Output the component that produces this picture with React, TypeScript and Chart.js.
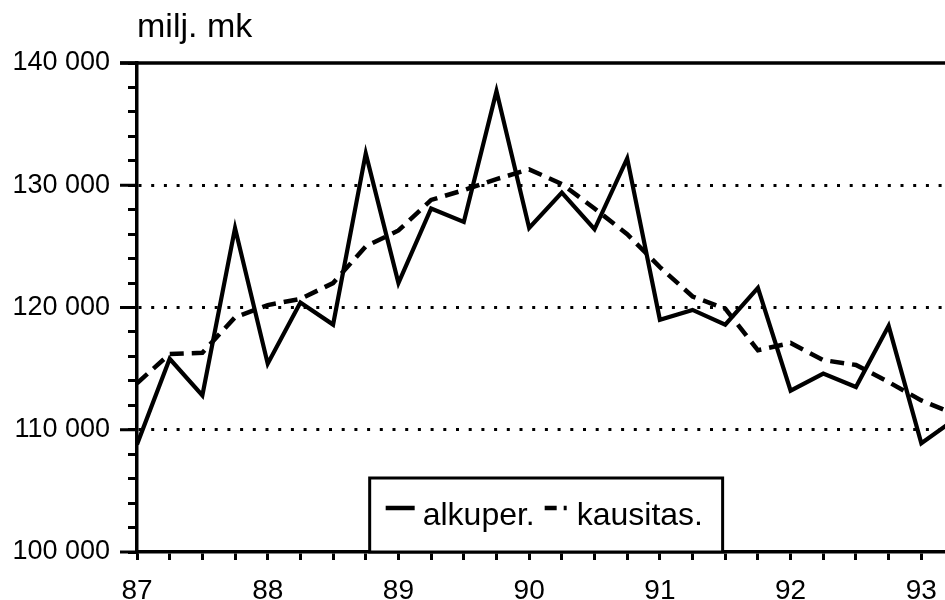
import React, { useEffect, useRef } from "react";
import { Chart, registerables } from "chart.js";

Chart.register(...registerables);

// Quarterly positions (year + quarter fraction)
const quarters = [
  87, 87.25, 87.5, 87.75, 88, 88.25, 88.5, 88.75, 89, 89.25, 89.5, 89.75, 90,
  90.25, 90.5, 90.75, 91, 91.25, 91.5, 91.75, 92, 92.25, 92.5, 92.75, 93, 93.25,
];

// alkuper. (original series), milj. mk
const alkuper = [
  108800, 115800, 112800, 126500, 115400, 120400, 118600, 132600, 122000,
  128100, 127000, 137700, 126500, 129400, 126400, 132200, 119000, 119800,
  118600, 121600, 113200, 114600, 113500, 118500, 108900, 110800,
];

// kausitas. (seasonally adjusted series), milj. mk
const kausitas = [
  113800, 116200, 116300, 119200, 120200, 120700, 122000, 125000, 126300,
  128800, 129600, 130500, 131300, 130100, 128100, 126000, 123300, 120900,
  119900, 116500, 117100, 115700, 115300, 113900, 112400, 111300,
];

const yearValues = [87, 88, 89, 90, 91, 92, 93];
const yearLabels = ["87", "88", "89", "90", "91", "92", "93"];

const yTickValues = [100000, 110000, 120000, 130000, 140000];
const yTickLabels = ["100 000", "110 000", "120 000", "130 000", "140 000"];
const yGridValues = [110000, 120000, 130000];

const unitTitle = "milj. mk";
const seriesNames = ["alkuper.", "kausitas."];

const FONT = '"Liberation Sans", Arial, Helvetica, sans-serif';

const extrasPlugin = {
  id: "extras",
  afterDraw(chart: any) {
    const { ctx, chartArea, scales } = chart;
    const y = scales.y;
    const x = scales.x;
    ctx.save();
    ctx.strokeStyle = "#000";
    ctx.fillStyle = "#000";
    ctx.lineCap = "butt";

    // long major ticks on the y axis
    ctx.lineWidth = 3;
    for (const v of yTickValues) {
      const py = y.getPixelForValue(v);
      ctx.beginPath();
      ctx.moveTo(chartArea.left - 17, py);
      ctx.lineTo(chartArea.left, py);
      ctx.stroke();
    }
    // top frame line
    const top = y.getPixelForValue(140000);
    ctx.lineWidth = 3.5;
    ctx.beginPath();
    ctx.moveTo(chartArea.left - 17, top);
    ctx.lineTo(chartArea.right + 20, top);
    ctx.stroke();

    // title
    ctx.font = `34px ${FONT}`;
    ctx.textAlign = "left";
    ctx.textBaseline = "alphabetic";
    ctx.fillText(unitTitle, chartArea.left, 37);

    // legend box
    const bx = x.getPixelForValue(88.78);
    const bx2 = x.getPixelForValue(91.48);
    const by = 478;
    const by2 = chartArea.bottom;
    ctx.fillStyle = "#fff";
    ctx.fillRect(bx, by, bx2 - bx, by2 - by);
    ctx.lineWidth = 3;
    ctx.strokeRect(bx, by, bx2 - bx, by2 - by);

    const ds = chart.data.datasets;
    const ly = 508;
    ctx.fillStyle = "#000";
    ctx.font = `32px ${FONT}`;
    // solid sample
    ctx.lineWidth = 4.5;
    ctx.setLineDash([]);
    ctx.beginPath();
    ctx.moveTo(bx + 16, ly);
    ctx.lineTo(bx + 45, ly);
    ctx.stroke();
    ctx.fillText(ds[0].label, bx + 53, 525);
    // dash-dot sample
    ctx.beginPath();
    ctx.setLineDash([12, 7, 3, 100]);
    ctx.moveTo(bx + 175, ly);
    ctx.lineTo(bx + 200, ly);
    ctx.stroke();
    ctx.setLineDash([]);
    ctx.fillText(ds[1].label, bx + 207, 525);

    ctx.restore();
  },
};

export default function App() {
  const ref = useRef<HTMLCanvasElement>(null);

  useEffect(() => {
    if (!ref.current) return;
    const chart = new Chart(ref.current, {
      type: "line",
      data: {
        datasets: [
          {
            label: seriesNames[0],
            data: quarters.map((q, i) => ({ x: q, y: alkuper[i] })),
            borderColor: "#000",
            borderWidth: 4.2,
            pointRadius: 0,
            tension: 0,
            borderJoinStyle: "miter",
          },
          {
            label: seriesNames[1],
            data: quarters.map((q, i) => ({ x: q, y: kausitas[i] })),
            borderColor: "#000",
            borderWidth: 4.5,
            borderDash: [14, 8],
            pointRadius: 0,
            tension: 0,
          },
        ],
      },
      options: {
        animation: false,
        responsive: false,
        devicePixelRatio: 1,
        layout: { padding: { top: 63, right: 6, left: 0, bottom: 0 } },
        plugins: {
          legend: { display: false },
          tooltip: { enabled: false },
          title: { display: false },
        },
        scales: {
          x: {
            type: "linear",
            min: 87,
            max: 93.25,
            afterFit: (s: any) => {
              s.height = 48;
              s.paddingLeft = 0;
              s.paddingRight = 0;
            },
            grid: {
              drawOnChartArea: false,
              drawTicks: true,
              tickLength: 8,
              tickWidth: 3,
              tickColor: "#000",
            },
            border: { display: true, color: "#000", width: 3.5 },
            ticks: {
              stepSize: 0.25,
              autoSkip: false,
              maxRotation: 0,
              padding: 14,
              color: "#000",
              font: { family: FONT, size: 28 },
              callback: (v: any) => {
                const idx = yearValues.indexOf(Number(v));
                return idx >= 0 ? yearLabels[idx] : "";
              },
            },
          },
          y: {
            type: "linear",
            min: 100000,
            max: 140000,
            afterFit: (s: any) => {
              s.width = 137;
              s.paddingTop = 0;
              s.paddingBottom = 0;
            },
            grid: {
              drawOnChartArea: true,
              drawTicks: true,
              tickLength: 9,
              tickWidth: 3,
              tickColor: "#000",
              lineWidth: 3,
              color: (c: any) =>
                c.tick && yGridValues.includes(c.tick.value) ? "#000" : "rgba(0,0,0,0)",
            },
            border: { display: true, color: "#000", width: 3.5, dash: [3, 9.7] },
            ticks: {
              stepSize: 2000,
              autoSkip: false,
              padding: 18,
              color: "#000",
              font: { family: FONT, size: 27 },
              callback: (v: any) => {
                const idx = yTickValues.indexOf(Number(v));
                return idx >= 0 ? yTickLabels[idx] : "";
              },
            },
          },
        },
      },
      plugins: [extrasPlugin],
    });
    return () => chart.destroy();
  }, []);

  return (
    <div
      style={{
        position: "fixed",
        left: 0,
        top: 0,
        width: 945,
        height: 600,
        overflow: "hidden",
        background: "#fff",
      }}
    >
      <canvas
        ref={ref}
        width={960}
        height={600}
        style={{ display: "block", width: 960, height: 600 }}
      />
    </div>
  );
}
